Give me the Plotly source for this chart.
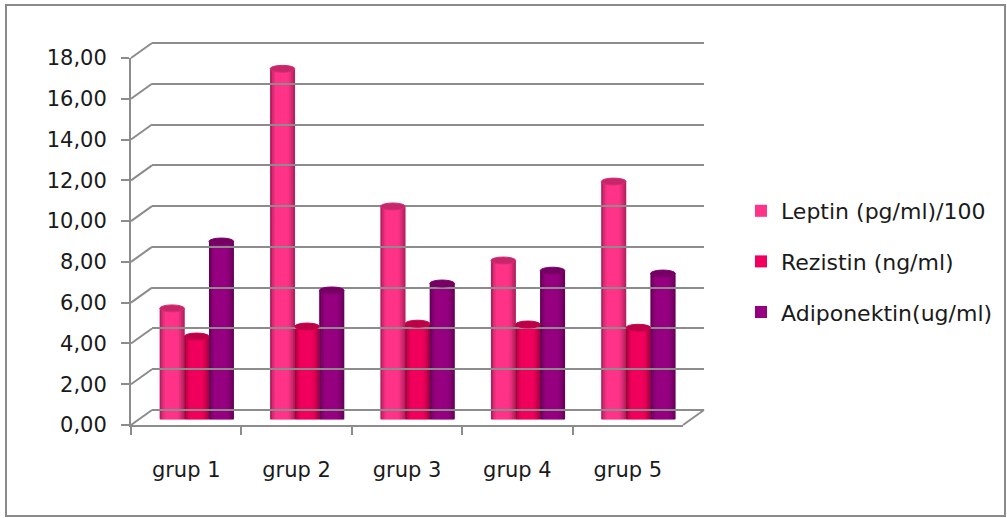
import plotly.graph_objects as go

W, H = 1007, 518

groups = ["grup 1", "grup 2", "grup 3", "grup 4", "grup 5"]
leptin = [5.45, 17.2, 10.45, 7.8, 11.67]
rezistin = [4.07, 4.56, 4.7, 4.66, 4.5]
adiponektin = [8.73, 6.33, 6.67, 7.3, 7.16]

series = [
    ("Leptin (pg/ml)/100", leptin, (255, 51, 136)),
    ("Rezistin (ng/ml)", rezistin, (240, 0, 92)),
    ("Adiponektin(ug/ml)", adiponektin, (150, 0, 128)),
]
grey = "#8c8c8c"
font = "DejaVu Sans"
ticks = list(range(0, 20, 2))

# Shade factors across a cylinder, left edge to right edge
shade = [0.68, 0.84, 0.94, 1.0, 1.0, 1.0, 1.0, 1.0, 1.0, 1.0, 0.97, 0.9, 0.8, 0.7]
bar_w = 0.223


def px(x):
    return x / W


def py(y):
    return 1 - y / H


def tint(rgb, k):
    return "rgb(%d,%d,%d)" % tuple(min(255, int(c * k)) for c in rgb)


fig = go.Figure()

# Back wall gridlines live on their own shifted axes
fig.add_trace(go.Scatter(x=[0], y=[0], xaxis="x3", yaxis="y3", mode="none",
                         showlegend=False, hoverinfo="skip"))
# Front axes carry the tick labels
fig.add_trace(go.Scatter(x=groups, y=[0] * 5, xaxis="x", yaxis="y", mode="none",
                         showlegend=False, hoverinfo="skip"))

positions = list(range(len(groups)))
shapes = []
for s, (name, values, rgb) in enumerate(series):
    left = -1.5 * bar_w + s * bar_w
    fig.add_trace(go.Bar(
        x=positions, y=values, name=name, xaxis="x2", yaxis="y2",
        offset=left, width=bar_w, marker=dict(color=tint(rgb, 1), line=dict(width=0)),
        legendgroup=name,
    ))
    n = len(shade)
    step = bar_w / n
    for i, k in enumerate(shade):
        fig.add_trace(go.Bar(
            x=positions, y=values, xaxis="x2", yaxis="y2", showlegend=False,
            offset=left + i * step, width=step * 1.15,
            marker=dict(color=tint(rgb, k), line=dict(width=0)), hoverinfo="skip",
        ))
    for p, v in zip(positions, values):
        # Rounded foot and darker cap of each cylinder
        a, b = p + left, p + left + bar_w
        shapes.append(dict(type="path", xref="x2", yref="y2", layer="above",
                           path=f"M {a},0 Q {(a + b) / 2},-0.3 {b},0 Z",
                           fillcolor=tint(rgb, 0.92), line_width=0))
        shapes.append(dict(type="circle", xref="x2", yref="y2", layer="above",
                           x0=a, x1=b, y0=v - 0.17, y1=v + 0.17,
                           fillcolor=tint(rgb, 0.78), line=dict(color=tint(rgb, 0.85), width=1)))

# Diagonals joining the front axis to the back wall
for t in ticks:
    y_front = 425 - t * (367 / 18)
    shapes.append(dict(type="line", xref="paper", yref="paper", layer="below",
                       x0=px(131), x1=px(152), y0=py(y_front), y1=py(y_front - 15),
                       line=dict(color=grey, width=2)))
shapes.append(dict(type="line", xref="paper", yref="paper", layer="below",
                   x0=px(683), x1=px(704), y0=py(425), y1=py(410),
                   line=dict(color=grey, width=2)))
# Outer chart frame
shapes.append(dict(type="rect", xref="paper", yref="paper", layer="below",
                   x0=px(6), x1=px(1005), y0=py(516), y1=py(5),
                   line=dict(color="#8a8a8a", width=2), fillcolor="rgba(0,0,0,0)"))

fig.update_layout(
    width=W, height=H, autosize=False,
    margin=dict(l=0, r=0, t=0, b=0, autoexpand=False),
    paper_bgcolor="white", plot_bgcolor="rgba(0,0,0,0)",
    separators=",.",
    barmode="overlay",
    shapes=shapes,
    font=dict(family=font, color="#1a1a1a", size=21),
    xaxis=dict(domain=[px(131), px(683)], anchor="y", type="category",
               categoryorder="array", categoryarray=groups, range=[-0.5, 4.5],
               tickson="boundaries", ticks="outside", ticklen=8, tickwidth=2, tickcolor=grey,
               showline=True, linecolor=grey, linewidth=2, showgrid=False, zeroline=False,
               ticklabelstandoff=25, tickfont=dict(size=21)),
    yaxis=dict(domain=[py(425), py(58)], anchor="x", range=[0, 18], tickvals=ticks,
               tickformat=".2f", ticks="outside", ticklen=8, tickwidth=2, tickcolor=grey,
               showline=True, linecolor=grey, linewidth=2, showgrid=False, zeroline=False,
               ticklabelstandoff=10, tickfont=dict(size=21)),
    xaxis2=dict(domain=[px(141.5), px(693.5)], anchor="y2", range=[-0.5, 4.5], visible=False),
    yaxis2=dict(domain=[py(419.5), py(52.5)], anchor="x2", range=[0, 18], visible=False),
    xaxis3=dict(domain=[px(152), px(704)], anchor="y3", range=[0, 1],
                showticklabels=False, ticks="", showgrid=False, zeroline=False),
    # Padded slightly so the 0 and 18 gridlines are kept at the axis ends
    yaxis3=dict(domain=[py(412.04), py(40.96)], anchor="x3", range=[-0.1, 18.1],
                tickvals=ticks, showticklabels=False, ticks="", showgrid=True,
                gridcolor=grey, gridwidth=2, zeroline=False, showline=False),
    legend=dict(x=px(741), y=py(190), xanchor="left", yanchor="top",
                font=dict(size=22, family=font), tracegroupgap=19,
                bgcolor="rgba(0,0,0,0)", itemclick=False, itemdoubleclick=False),
    showlegend=True,
)

fig.write_html("out.html", config=dict(displayModeBar=False))
